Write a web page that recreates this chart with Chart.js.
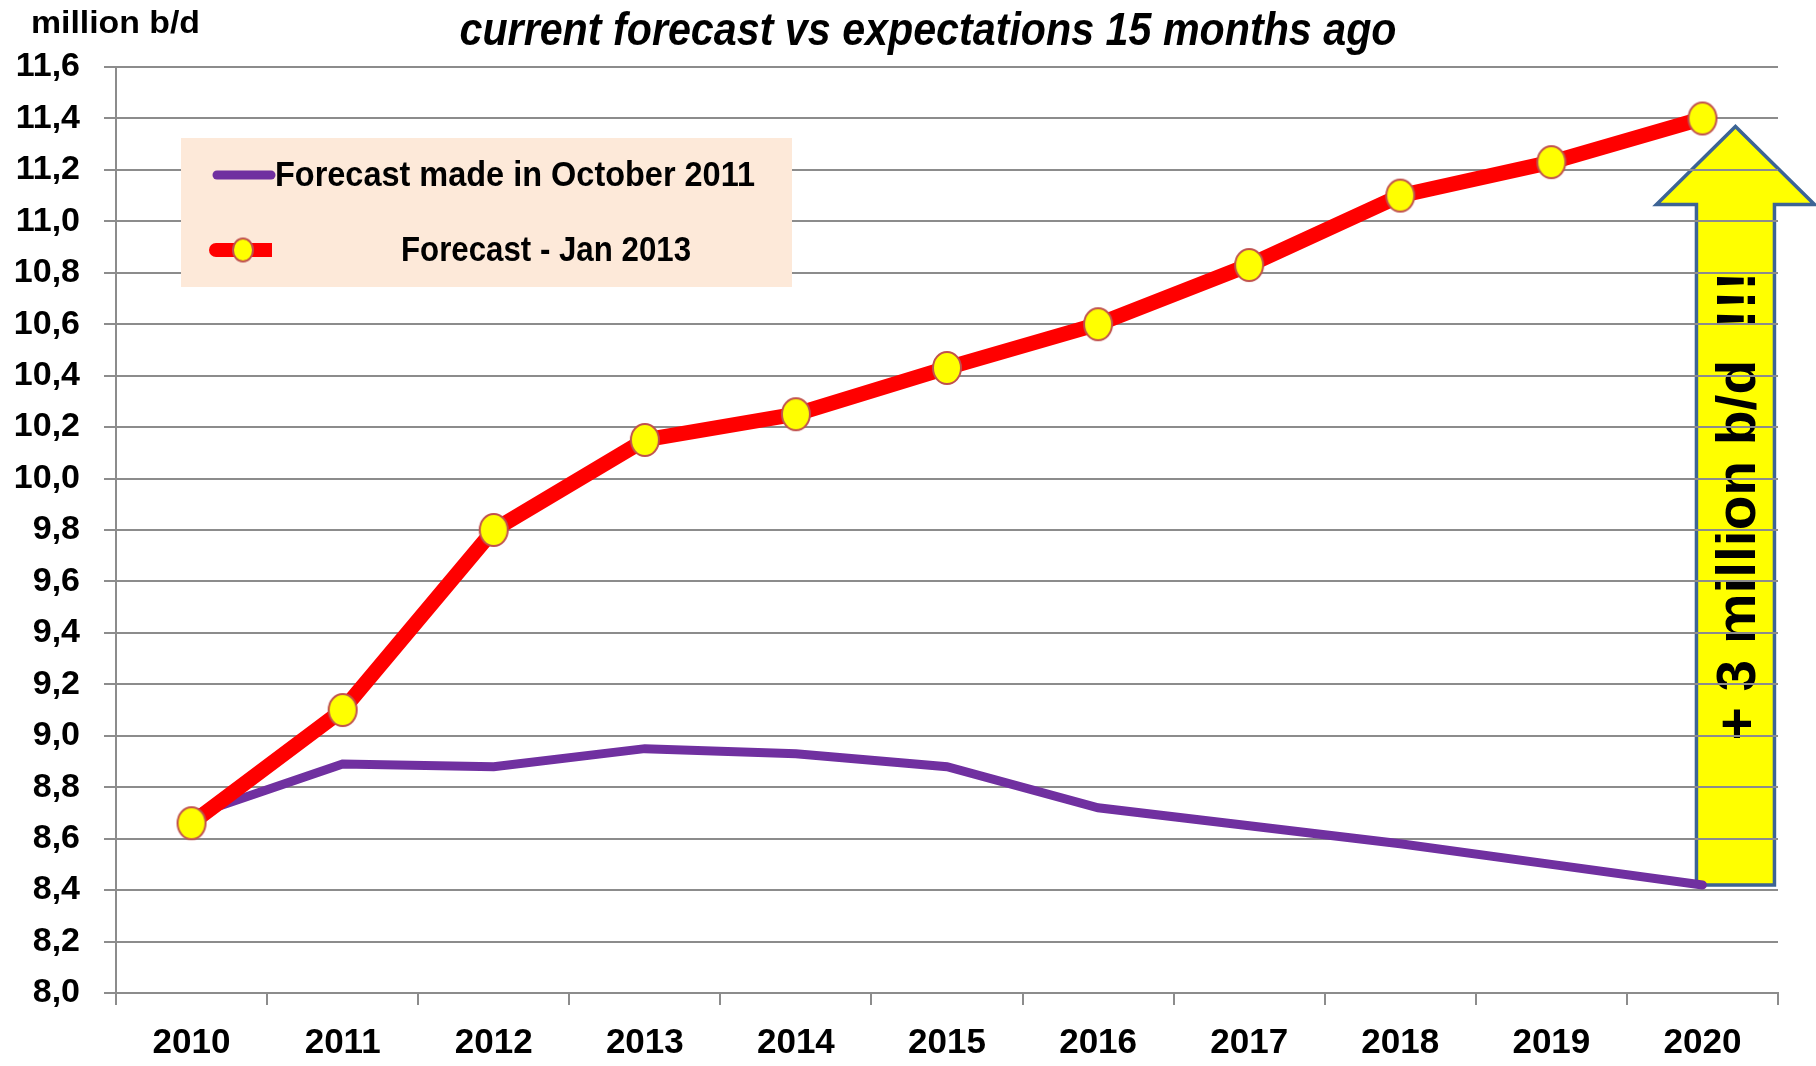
<!DOCTYPE html>
<html>
<head>
<meta charset="utf-8">
<script src="https://cdn.jsdelivr.net/npm/chart.js@4.4.1/dist/chart.umd.min.js"></script>
<style>
  html, body { margin: 0; padding: 0; background: #fff; }
  #wrap { width: 1816px; height: 1066px; }
</style>
</head>
<body>
<div id="wrap"><canvas id="oilChart" width="1816" height="1066"></canvas></div>
<script>
// data (million b/d)
const years = ['2010', '2011', '2012', '2013', '2014', '2015', '2016', '2017', '2018', '2019', '2020'];
const forecastOct2011 = [8.69, 8.89, 8.88, 8.95, 8.93, 8.88, 8.72, 8.65, 8.58, 8.50, 8.42];
const forecastJan2013 = [8.66, 9.10, 9.80, 10.15, 10.25, 10.43, 10.60, 10.83, 11.10, 11.23, 11.40];
const yMin = 8.0;
const yMax = 11.6;
const yStep = 0.2;
const seriesLabels = ['Forecast made in October 2011', 'Forecast - Jan 2013'];
const chartTitle = 'current forecast vs expectations 15 months ago';
const unitLabel = 'million b/d';
const arrowText = '+ 3 million b/d  !!!';

const PURPLE = '#7030A0';
const RED = '#FF0000';
const YELLOW = '#FFFF00';
const GRID = '#8c8c8c';
const SANS = '"Liberation Sans", Arial, sans-serif';

// yellow ellipse marker, a bit taller than wide
function makeMarker(w, h) {
    const c = document.createElement('canvas');
    c.width = w + 4;
    c.height = h + 4;
    const g = c.getContext('2d');
    g.beginPath();
    g.ellipse(c.width / 2, c.height / 2, w / 2, h / 2, 0, 0, Math.PI * 2);
    g.fillStyle = YELLOW;
    g.fill();
    g.lineWidth = 2;
    g.strokeStyle = '#C0504D';
    g.stroke();
    return c;
}
const marker = makeMarker(28, 32);
const smallMarker = makeMarker(20, 23);

// draws text squeezed (or stretched) sideways to a given width
function fitText(ctx, text, x, y, width) {
    const w = ctx.measureText(text).width;
    ctx.save();
    ctx.translate(x, y);
    ctx.scale(width / w, 1);
    ctx.fillText(text, 0, 0);
    ctx.restore();
}

// white background + the big arrow (sits under the grid lines)
const arrowPlugin = {
    id: 'arrowPlugin',
    beforeDraw(chart) {
        const ctx = chart.ctx;
        ctx.save();
        ctx.fillStyle = '#fff';
        ctx.fillRect(0, 0, chart.width, chart.height);

        const x = chart.scales.x;
        const y = chart.scales.y;
        const last = years.length - 1;
        const cx = x.getPixelForValue(last) + 33;
        const bottom = y.getPixelForValue(forecastOct2011[last]);
        const tip = y.getPixelForValue(forecastJan2013[last]) + 8;
        const shaftHalf = 39;
        const headHalf = 79;
        const headBase = tip + 78;

        ctx.beginPath();
        ctx.moveTo(cx - shaftHalf, bottom);
        ctx.lineTo(cx - shaftHalf, headBase);
        ctx.lineTo(cx - headHalf, headBase);
        ctx.lineTo(cx, tip);
        ctx.lineTo(cx + headHalf, headBase);
        ctx.lineTo(cx + shaftHalf, headBase);
        ctx.lineTo(cx + shaftHalf, bottom);
        ctx.closePath();
        ctx.fillStyle = YELLOW;
        ctx.fill();
        ctx.lineWidth = 3.5;
        ctx.strokeStyle = '#3D6495';
        ctx.lineJoin = 'miter';
        ctx.stroke();

        ctx.translate(cx + 4, 506);
        ctx.rotate(-Math.PI / 2);
        ctx.font = 'bold 56px ' + SANS;
        ctx.fillStyle = '#000';
        ctx.textAlign = 'center';
        ctx.textBaseline = 'middle';
        fitText(ctx, arrowText, 0, 0, 469);
        ctx.restore();
    }
};

// title, unit label and the legend box inside the plot
const textPlugin = {
    id: 'textPlugin',
    afterDraw(chart) {
        const ctx = chart.ctx;
        ctx.save();
        ctx.fillStyle = '#000';
        ctx.textBaseline = 'alphabetic';

        ctx.font = 'italic bold 47px ' + SANS;
        ctx.textAlign = 'center';
        fitText(ctx, chartTitle, 928, 45, 937);

        ctx.font = 'bold 31px ' + SANS;
        ctx.textAlign = 'left';
        fitText(ctx, unitLabel, 31, 33, 169);

        // legend
        ctx.fillStyle = '#FDE9D9';
        ctx.fillRect(181, 138, 611, 149);

        ctx.lineCap = 'round';
        ctx.strokeStyle = PURPLE;
        ctx.lineWidth = 9;
        ctx.beginPath();
        ctx.moveTo(217, 175);
        ctx.lineTo(271, 175);
        ctx.stroke();

        ctx.lineCap = 'butt';
        ctx.strokeStyle = RED;
        ctx.lineWidth = 14;
        ctx.beginPath();
        ctx.moveTo(216, 250);
        ctx.lineTo(272, 250);
        ctx.stroke();
        ctx.beginPath();
        ctx.arc(216, 250, 7, Math.PI / 2, Math.PI * 1.5);
        ctx.fillStyle = RED;
        ctx.fill();
        ctx.drawImage(smallMarker, 243 - smallMarker.width / 2, 250 - smallMarker.height / 2);

        ctx.fillStyle = '#000';
        ctx.font = 'bold 35px ' + SANS;
        ctx.textBaseline = 'middle';
        fitText(ctx, seriesLabels[0], 275, 176, 480);
        fitText(ctx, seriesLabels[1], 401, 251, 290);
        ctx.restore();
    }
};

const ctx = document.getElementById('oilChart').getContext('2d');
const oilChart = new Chart(ctx, {
    type: 'line',
    data: {
        labels: years,
        datasets: [{
            label: seriesLabels[1],
            data: forecastJan2013,
            borderColor: RED,
            borderWidth: 15,
            pointStyle: marker,
            pointRadius: 15,
            order: 1
        }, {
            label: seriesLabels[0],
            data: forecastOct2011,
            borderColor: PURPLE,
            borderWidth: 9,
            borderCapStyle: 'round',
            pointRadius: 0,
            order: 2
        }]
    },
    options: {
        responsive: false,
        animation: false,
        events: [],
        layout: { padding: { top: 67, right: 38, left: 0, bottom: 0 } },
        plugins: {
            legend: { display: false },
            tooltip: { enabled: false },
            title: { display: false }
        },
        scales: {
            x: {
                offset: true,
                grid: {
                    offset: true,
                    drawOnChartArea: false,
                    drawTicks: true,
                    tickLength: 12,
                    color: GRID,
                    lineWidth: 2
                },
                border: { display: true, color: GRID, width: 2 },
                ticks: {
                    color: '#000',
                    font: { family: SANS, size: 35, weight: 'bold' },
                    padding: 17,
                    maxRotation: 0
                },
                afterFit(scale) { scale.height = 73; }
            },
            y: {
                min: yMin,
                max: yMax,
                grid: { color: GRID, lineWidth: 2, tickLength: 12 },
                border: { display: true, color: GRID, width: 2 },
                ticks: {
                    stepSize: yStep,
                    color: '#000',
                    padding: 24,
                    font: { family: SANS, size: 34, weight: 'bold' },
                    callback: v => v.toFixed(1).replace('.', ',')
                },
                afterFit(scale) { scale.width = 116; }
            }
        }
    },
    plugins: [arrowPlugin, textPlugin]
});
</script>
</body>
</html>
